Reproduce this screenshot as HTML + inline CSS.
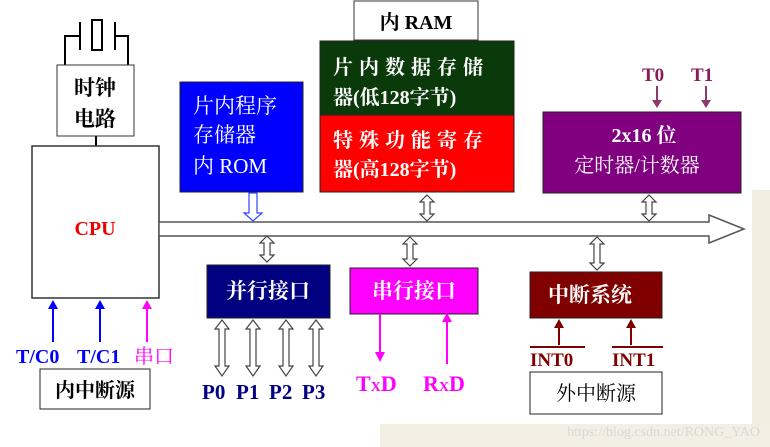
<!DOCTYPE html>
<html><head><meta charset="utf-8"><style>
html,body{margin:0;padding:0;background:#fff}
svg{display:block}
text{font-family:"Liberation Serif","Noto Serif CJK SC",serif}
</style></head><body>
<svg width="770" height="447" viewBox="0 0 770 447" xmlns="http://www.w3.org/2000/svg">
<rect width="770" height="447" fill="#fff"/>
<rect x="752" y="190" width="18" height="257" fill="#f1ede0"/>
<rect x="380" y="424" width="390" height="23" fill="#f3efe4"/>
<!-- crystal -->
<g fill="none" stroke="#000" stroke-width="2">
<polyline points="65,65 65,36 80,36"/>
<line x1="80" y1="22" x2="80" y2="50"/>
<rect x="92" y="20" width="10" height="30"/>
<line x1="115" y1="22" x2="115" y2="50"/>
<polyline points="115,36 128,36 128,65"/>
<line x1="96" y1="136" x2="96" y2="146"/>
</g>
<rect x="57" y="65" width="77" height="71" fill="#fff" stroke="#333"/>
<text x="95" y="95" font-size="21" font-weight="bold" text-anchor="middle">时钟</text>
<text x="95" y="126" font-size="21" font-weight="bold" text-anchor="middle">电路</text>
<rect x="32" y="146" width="127" height="152" fill="#fff" stroke="#333" stroke-width="1.5"/>
<text x="95" y="235" font-size="20" font-weight="bold" fill="#e00" text-anchor="middle">CPU</text>
<!-- ROM -->
<rect x="180" y="82" width="123" height="110" fill="#0000ff" stroke="#222"/>
<g fill="#fff" font-size="21"><text x="193" y="113">片内程序</text><text x="193" y="142">存储器</text><text x="193" y="173">内 ROM</text></g>
<!-- RAM -->
<rect x="354" y="1" width="124" height="39" fill="#fff" stroke="#333"/>
<text x="416" y="29" font-size="20" font-weight="bold" text-anchor="middle">内 RAM</text>
<rect x="320" y="41" width="194" height="74" fill="#0a3a0a" stroke="#222"/>
<rect x="320" y="115" width="194" height="77" fill="#ff0000" stroke="#222"/>
<g fill="#fff" font-size="20" font-weight="bold"><text x="333" y="74" letter-spacing="6">片内数据存储</text><text x="333" y="104">器(低128字节)</text>
<text x="333" y="147" letter-spacing="6">特殊功能寄存</text><text x="333" y="176">器(高128字节)</text></g>
<!-- timer -->
<rect x="543" y="112" width="198" height="81" fill="#800080" stroke="#222"/>
<text x="644" y="142" font-size="20" font-weight="bold" fill="#fff" text-anchor="middle">2x16 位</text>
<text x="637" y="172" font-size="20" fill="#fff" text-anchor="middle">定时器/计数器</text>
<g fill="#8b1a5a" font-size="19" font-weight="bold"><text x="642" y="81">T0</text><text x="691" y="81">T1</text></g>
<g stroke="#8b3a6a" stroke-width="2"><line x1="657" y1="86" x2="657" y2="104"/><line x1="706" y1="86" x2="706" y2="104"/></g>
<g fill="#8b3a6a"><polygon points="652,100 662,100 657,108"/><polygon points="701,100 711,100 706,108"/></g>
<!-- bus -->
<polygon points="159,222 709,222 709,215 744,229 709,243 709,236 159,236" fill="#fff" stroke="#555" stroke-width="1.5"/>
<!-- ROM arrow -->
<polygon points="249,193 257,193 257,213 262,213 253,221 244,213 249,213" fill="#fff" stroke="#3344ff" stroke-width="1.2"/>
<!-- double arrows -->
<g fill="#fff" stroke="#444" stroke-width="1.2">
<polygon points="267,236 274,243 270,243 270,255 274,255 267,262 260,255 264,255 264,243 260,243"/>
<polygon points="427,195 434,202 430,202 430,214 434,214 427,221 420,214 424,214 424,202 420,202"/>
<polygon points="649,195 656,202 652,202 652,214 656,214 649,221 642,214 646,214 646,202 642,202"/>
<polygon points="410,237 417,244 413,244 413,259 417,259 410,266 403,259 407,259 407,244 403,244"/>
<polygon points="597,237 604,244 600,244 600,263 604,263 597,270 590,263 594,263 594,244 590,244"/>
<polygon points="222,320 229,329 225,329 225,366 229,366 222,376 215,366 219,366 219,329 215,329"/>
<polygon points="253,320 260,329 256,329 256,366 260,366 253,376 246,366 250,366 250,329 246,329"/>
<polygon points="286,320 293,329 289,329 289,366 293,366 286,376 279,366 283,366 283,329 279,329"/>
<polygon points="316,320 323,329 319,329 319,366 323,366 316,376 309,366 313,366 313,329 309,329"/>
</g>
<!-- parallel -->
<rect x="207" y="265" width="123" height="53" fill="#000080" stroke="#222"/>
<text x="268" y="298" font-size="21" font-weight="bold" fill="#fff" text-anchor="middle">并行接口</text>
<g fill="#000080" font-size="21" font-weight="bold"><text x="202" y="399">P0</text><text x="236" y="399">P1</text><text x="269" y="399">P2</text><text x="302" y="399">P3</text></g>
<!-- serial -->
<rect x="350" y="268" width="128" height="46" fill="#ff00ff" stroke="#222"/>
<text x="414" y="298" font-size="21" font-weight="bold" fill="#fff" text-anchor="middle">串行接口</text>
<g stroke="#ff00ff" stroke-width="2"><line x1="380" y1="314" x2="380" y2="356"/><line x1="447" y1="318" x2="447" y2="364"/></g>
<g fill="#ff00ff"><polygon points="375,352 385,352 380,362"/><polygon points="442,322 452,322 447,313"/></g>
<g fill="#ff00ff" font-size="22" font-weight="bold"><text x="356" y="391">T<tspan font-size="14">X</tspan>D</text><text x="423" y="391">R<tspan font-size="14">X</tspan>D</text></g>
<!-- interrupt -->
<rect x="530" y="272" width="132" height="46" fill="#800000" stroke="#222"/>
<text x="590" y="302" font-size="21" font-weight="bold" fill="#fff" text-anchor="middle">中断系统</text>
<g stroke="#800000" stroke-width="2"><line x1="559" y1="326" x2="559" y2="345"/><line x1="631" y1="326" x2="631" y2="345"/>
<line x1="530" y1="347" x2="585" y2="347"/><line x1="612" y1="347" x2="663" y2="347"/></g>
<g fill="#800000"><polygon points="554,328 564,328 559,319"/><polygon points="626,328 636,328 631,319"/></g>
<g fill="#800000" font-size="19" font-weight="bold"><text x="530" y="366">INT0</text><text x="612" y="366">INT1</text></g>
<rect x="530" y="372" width="132" height="42" fill="#fff" stroke="#222"/>
<text x="596" y="400" font-size="20" text-anchor="middle">外中断源</text>
<!-- CPU inputs -->
<g stroke-width="2"><line x1="53" y1="306" x2="53" y2="342" stroke="#0000ff"/><line x1="100" y1="306" x2="100" y2="342" stroke="#0000ff"/><line x1="147" y1="306" x2="147" y2="342" stroke="#ff00ff"/></g>
<polygon points="48,309 58,309 53,300" fill="#0000ff"/><polygon points="95,309 105,309 100,300" fill="#0000ff"/><polygon points="142,309 152,309 147,300" fill="#ff00ff"/>
<g font-size="20" font-weight="bold"><text x="16" y="363" fill="#0000ff">T/C0</text><text x="77" y="363" fill="#0000ff">T/C1</text><text x="134" y="363" fill="#ff00ff" font-weight="normal">串口</text></g>
<rect x="40" y="369" width="110" height="40" fill="#fff" stroke="#222"/>
<text x="95" y="397" font-size="20" font-weight="bold" text-anchor="middle">内中断源</text>
<text x="760" y="436" font-size="14" fill="#d8d8d8" text-anchor="end" font-family="Liberation Sans,sans-serif">https://blog.csdn.net/RONG_YAO</text>
</svg>
</body></html>
